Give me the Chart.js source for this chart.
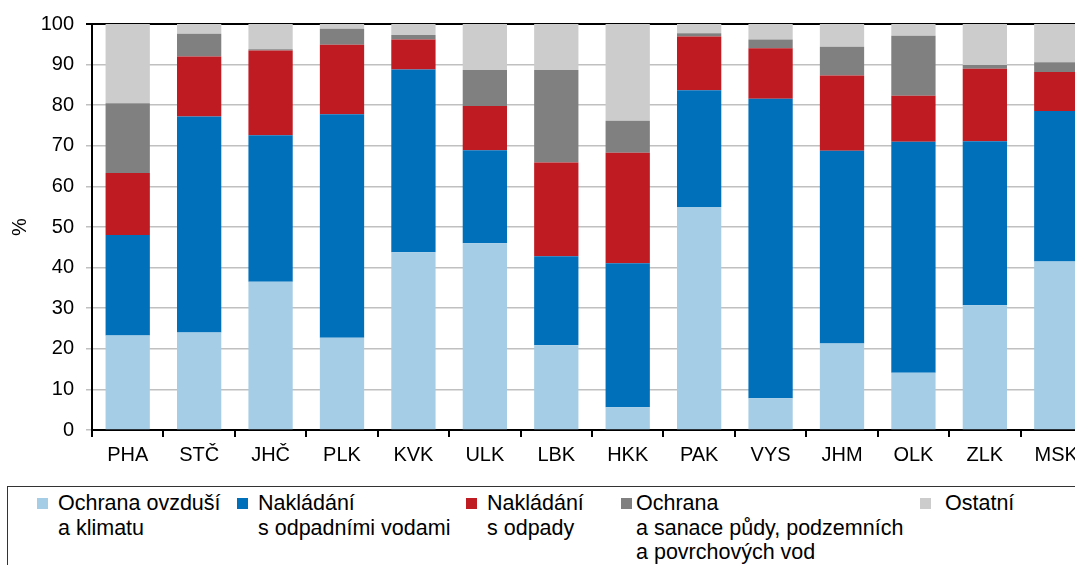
<!DOCTYPE html>
<html>
<head>
<meta charset="utf-8">
<script src="https://cdn.jsdelivr.net/npm/chart.js@4/dist/chart.umd.min.js"></script>
<style>
  body { margin: 0; background: #fff; }
  #wrap { position: relative; width: 1075px; height: 565px; overflow: hidden; background: #fff; }
  #myChart { position: absolute; left: 0; top: 0; }
  #legend {
    position: absolute; left: 7px; top: 486px; width: 1090px; height: 100px;
    border: 1.5px solid #333; box-sizing: border-box;
    display: grid; grid-template-columns: 200px 229px 155px 299px auto;
    padding: 4px 0 0 29px;
    font-family: "Liberation Sans", Arial, sans-serif; font-size: 21.5px; line-height: 24.5px; color: #000;
  }
  .item { display: flex; align-items: flex-start; }
  .box { width: 11px; height: 11px; margin: 7px 10px 0 0; flex: none; }
  .item:nth-child(4) .box { margin-right: 4px; }
  .item:nth-child(5) .box { margin-right: 14px; }
  .txt { white-space: pre-line; }
</style>
</head>
<body>
<div id="wrap">
  <canvas id="myChart"></canvas>
  <div id="legend"></div>
</div>
<script>
const regions = ['PHA', 'STČ', 'JHČ', 'PLK', 'KVK', 'ULK', 'LBK', 'HKK', 'PAK', 'VYS', 'JHM', 'OLK', 'ZLK', 'MSK'];

const ovzdusi  = [23.3, 24.0, 36.5, 22.7, 43.8, 46.0, 20.9,  5.6, 54.9,  7.8, 21.3, 14.1, 30.7, 41.5];
const vody     = [24.7, 53.2, 36.1, 55.1, 45.0, 22.9, 21.9, 35.5, 28.8, 73.8, 47.5, 56.9, 40.4, 37.1];
const odpady   = [15.3, 14.8, 20.9, 17.1,  7.4, 10.9, 23.1, 27.2, 13.2, 12.4, 18.5, 11.3, 17.9,  9.6];
const puda     = [17.2,  5.6,  0.3,  3.9,  1.1,  8.9, 22.8,  7.9,  0.8,  2.2,  7.1, 14.8,  0.9,  2.4];
const ostatni  = [19.5,  2.4,  6.2,  1.2,  2.7, 11.3, 11.3, 23.8,  2.3,  3.8,  5.6,  2.9, 10.1,  9.4];

const seriesLabels = [
    'Ochrana ovzduší\na klimatu',
    'Nakládání\ns odpadními vodami',
    'Nakládání\ns odpady',
    'Ochrana\na sanace půdy, podzemních\na povrchových vod',
    'Ostatní'
];
const seriesData = [ovzdusi, vody, odpady, puda, ostatni];
const seriesColors = ['#a6cde6', '#0070bb', '#be1b22', '#808080', '#cccccc'];

const font = { family: '"Liberation Sans", Arial, sans-serif', size: 20 };

const canvas = document.getElementById('myChart');
canvas.width = 1100;
canvas.height = 486;

const ctx = canvas.getContext('2d');
const myChart = new Chart(ctx, {
    type: 'bar',
    data: {
        labels: regions,
        datasets: seriesData.map((d, i) => ({
            label: seriesLabels[i],
            data: d,
            backgroundColor: seriesColors[i],
            borderWidth: 0,
            barPercentage: 0.62,
            categoryPercentage: 1
        }))
    },
    options: {
        responsive: false,
        animation: false,
        layout: { padding: { top: 24, right: 8, left: 8 } },
        plugins: {
            legend: { display: false },
            tooltip: { enabled: false }
        },
        scales: {
            x: {
                stacked: true,
                offset: true,
                grid: {
                    offset: true,
                    drawOnChartArea: false,
                    tickLength: 7,
                    color: '#000',
                    lineWidth: 2
                },
                border: { color: '#000', width: 2 },
                ticks: { color: '#000', font: font, padding: 6, maxRotation: 0 },
                afterFit: (s) => { s.height = 56; }
            },
            y: {
                stacked: true,
                min: 0,
                max: 100,
                ticks: { stepSize: 10, color: '#000', font: font, padding: 12 },
                grid: {
                    color: (c) => c.tick && c.tick.value === 100 ? '#000' : '#c0c0c0',
                    lineWidth: (c) => c.tick && c.tick.value === 100 ? 2 : 1.5,
                    tickLength: 6
                },
                border: { color: '#000', width: 2 },
                title: { display: true, text: '%', color: '#000', font: font, padding: 0 },
                afterFit: (s) => { s.width = 84; }
            }
        }
    }
});

// html legend, labels need several lines
const legend = document.getElementById('legend');
seriesLabels.forEach((lab, i) => {
    const item = document.createElement('div');
    item.className = 'item';
    const box = document.createElement('span');
    box.className = 'box';
    box.style.background = seriesColors[i];
    const txt = document.createElement('span');
    txt.className = 'txt';
    txt.textContent = lab;
    item.appendChild(box);
    item.appendChild(txt);
    legend.appendChild(item);
});
</script>
</body>
</html>
